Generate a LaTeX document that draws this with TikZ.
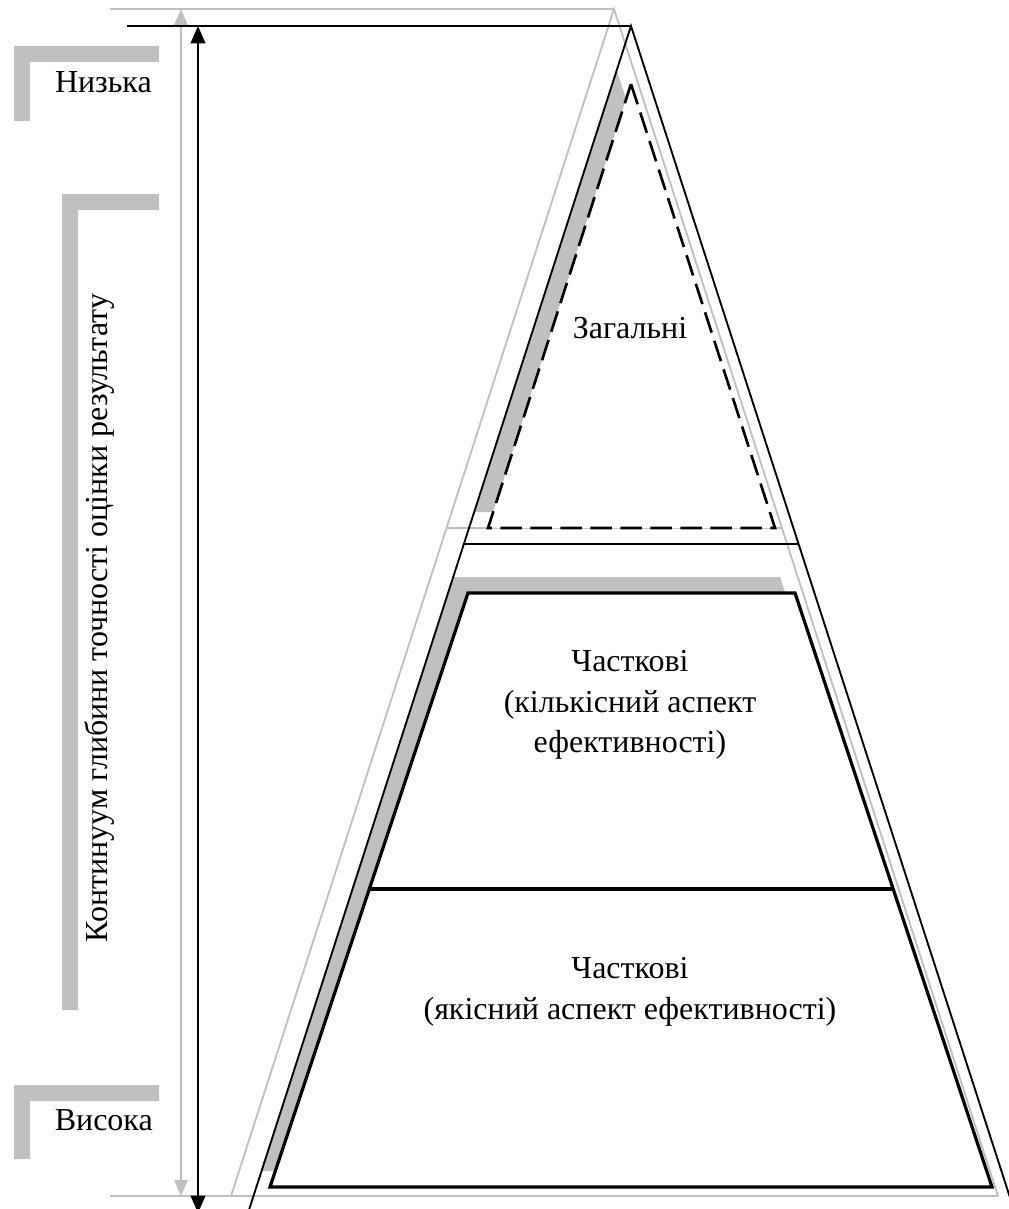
\documentclass[tikz,border=0pt]{standalone}
\usepackage{fontspec}
\setmainfont{Liberation Serif}
\usetikzlibrary{arrows.meta}
\definecolor{lg}{RGB}{192,192,192}
\begin{document}
\begin{tikzpicture}[x=0.75pt,y=-0.75pt,
  thingray/.style={draw=lg, line width=1.4pt},
  thinblack/.style={draw=black, line width=1.4pt},
  thickblack/.style={draw=black, line width=2.4pt, line join=miter},
  shadowfill/.style={fill=lg, draw=none},
  bracketbar/.style={fill=lg, draw=none},
  dashtri/.style={draw=black, fill=white, line width=2pt, dash pattern=on 16pt off 6.5pt, line join=miter},
  lbl/.style={font=\fontsize{24}{30.4}\selectfont, align=center, inner sep=0pt},
  grayarrow/.style={draw=lg, line width=1.4pt, {Triangle[width=10pt,length=12pt]}-{Triangle[width=10pt,length=12pt]}},
  blackarrow/.style={draw=black, line width=1.4pt, {Triangle[width=11pt,length=13pt]}-{Triangle[width=11pt,length=13pt]}}
]
\useasboundingbox (0,0) rectangle (1009,1209);
\clip (0,0) rectangle (1009,1209);

% gray L-shaped brackets
\fill[bracketbar] (14,46) -- (159,46) -- (159,62) -- (30,62) -- (30,121) -- (14,121) -- cycle;
\fill[bracketbar] (62,194) -- (159,194) -- (159,210) -- (78,210) -- (78,1010) -- (62,1010) -- cycle;
\fill[bracketbar] (14,1085) -- (159,1085) -- (159,1101) -- (30,1101) -- (30,1159) -- (14,1159) -- cycle;

% gray frame (offset copy)
\coordinate (gA) at (614,9);
\coordinate (gL) at (231,1196);
\coordinate (gR) at (998,1196);
\coordinate (gT) at (110,9);
\coordinate (gB) at (110,1196);
\coordinate (gML) at (447,528);
\coordinate (gMR) at (782,528);
\draw[thingray] (gT) -- (gA);
\draw[thingray] (gL) -- (gA) -- (gR);
\draw[thingray] (gB) -- (gR);
\draw[thingray] (gML) -- (gMR);
\coordinate (gaT) at (181,9);
\coordinate (gaB) at (181,1196);
\draw[grayarrow] (gaT) -- (gaB);

% black frame
\coordinate (bA) at (631,26);
\coordinate (bL) at (248,1213);
\coordinate (bR) at (1015,1213);
\coordinate (bT) at (127,26);
\coordinate (bML) at (464,544);
\coordinate (bMR) at (798,544);

% shadows clipped to black triangle
\begin{scope}
  \clip (bA) -- (bL) -- (bR) -- cycle;
  \fill[shadowfill] (616,68) -- (473,512) -- (760,512) -- cycle;
  \fill[shadowfill] (453,577) -- (780,577) -- (977,1171) -- (255,1171) -- cycle;
\end{scope}

\draw[thinblack] (bT) -- (bA);
\draw[thinblack] (bL) -- (bA) -- (bR);
\draw[thinblack] (bML) -- (bMR);
\coordinate (baT) at (198,26);
\coordinate (baB) at (198,1213);
\draw[blackarrow] (baT) -- (baB);

% trapezoid
\coordinate (t1) at (468,593);
\coordinate (t2) at (795,593);
\coordinate (t3) at (992,1187);
\coordinate (t4) at (270,1187);
\coordinate (tmL) at (369,889);
\coordinate (tmR) at (893,889);
\draw[thickblack, fill=white] (t1) -- (t2) -- (t3) -- (t4) -- cycle;
\draw[thickblack] (tmL) -- (tmR);

% dashed triangle
\coordinate (d1) at (631,84);
\coordinate (d2) at (488,528);
\coordinate (d3) at (775,528);
\draw[dashtri] (d1) -- (d3) -- (d2) -- cycle;

% texts
\node[lbl] (top) at (630,328) {Загальні};
\node[lbl] (mid) at (630,705) {Часткові\\(кількісний аспект\\ефективності)};
\node[lbl] (bot) at (630,992) {Часткові\\(якісний аспект ефективності)};
\node[lbl, anchor=base east] (low) at (152,93) {Низька};
\node[lbl, anchor=base east] (high) at (153,1130) {Висока};
\node[lbl, rotate=90] (axis) at (99,618) {Континуум глибини точності оцінки результату};
\end{tikzpicture}
\end{document}
